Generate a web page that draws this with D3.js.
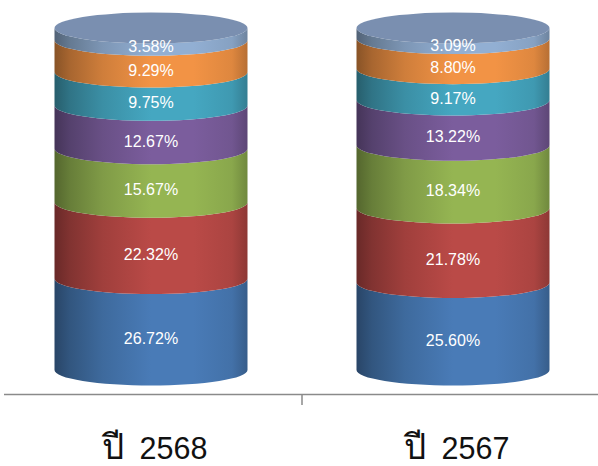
<!DOCTYPE html>
<html><head><meta charset="utf-8">
<script src="https://cdnjs.cloudflare.com/ajax/libs/d3/7.8.5/d3.min.js"></script>
<style>html,body{margin:0;background:#fff}svg{display:block}</style></head>
<body><svg id="c" width="598" height="466"></svg>
<script>
const categories = ["ปี 2568", "ปี 2567"];
const seriesColors = ["#4a7ebb", "#be4b48", "#98b954", "#7d5fa0", "#46aac5", "#f79646", "#95b3d7"];
const values2568 = [26.72, 22.32, 15.67, 12.67, 9.75, 9.29, 3.58];
const values2567 = [25.60, 21.78, 18.34, 13.22, 9.17, 8.80, 3.09];
const seriesValues = [values2568, values2567];

const svg = d3.select("#c");
const x = d3.scaleBand().domain(categories).range([0, 604]).paddingInner(0).paddingOuter(0);
const y = d3.scaleLinear().domain([0, 100]).range([370, 28]);
const halfW = 96.5, ry = 15.5;
const defs = svg.append("defs");

seriesColors.forEach((c, i) => {
  const col = d3.color(c);
  const g = defs.append("linearGradient").attr("id", "g" + i);
  [[0, .55], [.08, .68], [.25, .84], [.5, .98], [.72, .98], [.92, .9], [1, .74]].forEach(([o, k]) => {
    g.append("stop").attr("offset", o).attr("stop-color",
      d3.rgb(col.r * k, col.g * k, col.b * k).formatHex());
  });
});

function segPath(cx, yBot, yTop) {
  const a = `A${halfW},${ry} 0 0 0`;
  const b = `A${halfW},${ry} 0 0 1`;
  return `M${cx - halfW},${yTop} ${a} ${cx + halfW},${yTop} L${cx + halfW},${yBot} ${b} ${cx - halfW},${yBot} Z`;
}

categories.forEach((cat, ci) => {
  const cx = x(cat) + x.bandwidth() / 2;
  const vals = seriesValues[ci];
  let acc = 0;
  const gr = svg.append("g");
  vals.forEach((v, i) => {
    gr.append("path").attr("d", segPath(cx, y(acc), y(acc + v))).attr("fill", `url(#g${i})`);
    acc += v;
  });
  gr.append("ellipse").attr("cx", cx).attr("cy", y(100)).attr("rx", halfW).attr("ry", ry)
    .attr("fill", "#7a8fb0");
  acc = 0;
  vals.forEach((v, i) => {
    svg.append("text").attr("x", cx).attr("y", y(acc + v / 2) + ry + (i === 6 ? 2.5 : 4))
      .attr("text-anchor", "middle").attr("fill", "#fff")
      .attr("font-family", "'Liberation Sans',Arial,sans-serif").attr("font-size", 16)
      .text(v.toFixed(2) + "%");
    acc += v;
  });
  const parts = cat.split(" ");
  svg.append("text").attr("x", cx - 49).attr("y", 458.5).attr("fill", "#111")
    .attr("font-family", "'Liberation Sans','Noto Sans',sans-serif").attr("font-size", 35)
    .text(parts[0]);
  svg.append("text").attr("x", cx - 11.5).attr("y", 459).attr("fill", "#111")
    .attr("font-family", "'Liberation Sans',Arial,sans-serif").attr("font-size", 30.5)
    .text(parts[1]);
});

const axis = svg.append("g").attr("stroke", "#8a8a8a").attr("stroke-width", 1.5);
axis.append("line").attr("x1", 4).attr("x2", 598).attr("y1", 394.5).attr("y2", 394.5);
axis.append("line").attr("x1", x(categories[1])).attr("x2", x(categories[1])).attr("y1", 394.5).attr("y2", 405);
</script></body></html>
